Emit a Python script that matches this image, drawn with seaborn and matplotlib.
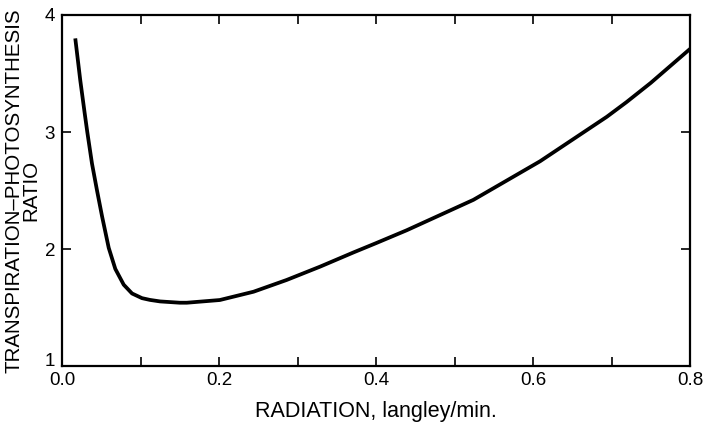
import matplotlib
matplotlib.use("Agg")
import matplotlib.pyplot as plt
from matplotlib.ticker import MultipleLocator
import seaborn as sns
import pandas as pd

radiation = [0.0169, 0.0233, 0.0289, 0.0322, 0.0382, 0.0446, 0.0510, 0.0595,
             0.0679, 0.0786, 0.0892, 0.1019, 0.112, 0.125, 0.150,
             0.159, 0.201, 0.244, 0.286, 0.329, 0.371, 0.400, 0.439, 0.524, 0.609,
             0.694, 0.719, 0.750, 0.800]
ratio = [3.80, 3.44, 3.16, 3.00, 2.73, 2.50, 2.28, 2.01,
         1.83, 1.695, 1.62, 1.58, 1.565, 1.552, 1.541,
         1.541, 1.564, 1.635, 1.735, 1.85, 1.97, 2.05, 2.16, 2.42, 2.75,
         3.13, 3.255, 3.42, 3.71]
x_ticks = [0.0, 0.2, 0.4, 0.6, 0.8]
x_tick_labels = ["0.0", "0.2", "0.4", "0.6", "0.8"]
y_ticks = [1, 2, 3, 4]
y_tick_labels = ["1", "2", "3", "4"]

df = pd.DataFrame({"radiation": radiation, "ratio": ratio})

sns.set_theme(style="ticks")
plt.rcParams["font.family"] = ["Liberation Sans", "DejaVu Sans"]

fig = plt.figure(figsize=(7.07, 4.26), dpi=100)
ax = fig.add_axes([0.0877, 0.1408, 0.976 - 0.0877, 0.9648 - 0.1408])

sns.lineplot(data=df, x="radiation", y="ratio", ax=ax, color="black",
             linewidth=2.7, sort=False, estimator=None,
             solid_joinstyle="round", solid_capstyle="butt")

ax.set_xlim(0, 0.8)
ax.set_ylim(1, 4)
ax.set_xticks(x_ticks)
ax.set_xticklabels(x_tick_labels)
ax.xaxis.set_minor_locator(MultipleLocator(0.1))
ax.set_yticks(y_ticks)
ax.set_yticklabels(y_tick_labels)

for s in ax.spines.values():
    s.set_linewidth(1.6)
    s.set_color("black")

ax.tick_params(which="both", direction="in", top=True, right=True,
               labeltop=False, labelright=False, length=6.5, width=1.2,
               color="black", labelsize=13.5, labelcolor="black")
ax.tick_params(axis="x", which="major", pad=4)
ax.tick_params(axis="y", which="major", pad=5)

ylabs = ax.get_yticklabels()
ylabs[0].set_verticalalignment("baseline")

ax.set_xlabel("RADIATION, langley/min.", fontsize=15.5, color="black", labelpad=9)
ax.set_ylabel("TRANSPIRATION\u2013PHOTOSYNTHESIS\nRATIO", fontsize=14.8,
              color="black", labelpad=3, linespacing=0.85)

fig.savefig("out.png", dpi=100, facecolor="white")
